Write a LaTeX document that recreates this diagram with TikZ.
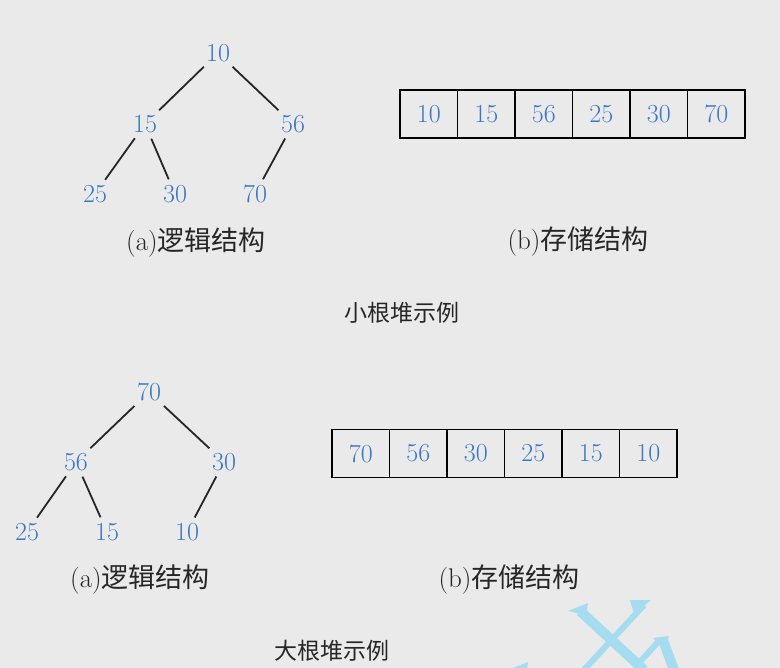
\documentclass[tikz,border=0pt]{standalone}
\usepackage{xcolor}
\usepackage{fontspec}
\newfontfamily\cjk{Noto Sans CJK SC}
\usepackage{tikz}
\usetikzlibrary{positioning}
\definecolor{numblue}{HTML}{3A78C3}
\definecolor{bggray}{HTML}{EAEAEA}
\definecolor{wmcyan}{HTML}{A6DCF0}

\begin{document}
\begin{tikzpicture}[x=1pt, y=-1pt,
            num/.style={text=numblue, font=\fontsize{26}{28}\selectfont, inner sep=2pt},
            cell/.style={draw, line width=1.4pt, rectangle, outer sep=0pt, inner sep=0pt, minimum width=57.5pt, minimum height=48pt, text=numblue, font=\fontsize{26}{28}\selectfont},
            caption/.style={text=black!85, font=\fontsize{27}{30}\selectfont},
            title/.style={text=black!85, font=\cjk\fontsize{23}{26}\selectfont},
            link/.style={line width=1.8pt, black!85, shorten <=4pt, shorten >=4pt}]

            \fill[bggray] (0,0) rectangle (780,668);
            \useasboundingbox (0,0) rectangle (780,668);

            % small root heap
            \node[num] (s10) at (218,53) {10};
            \node[num] (s15) at (145,124) {15};
            \node[num] (s56) at (293,124) {56};
            \node[num] (s25) at (95,194) {25};
            \node[num] (s30) at (175,194) {30};
            \node[num] (s70) at (255,194) {70};
            \draw[link] (s10) -- (s15);
            \draw[link] (s10) -- (s56);
            \draw[link] (s15) -- (s25);
            \draw[link] (s15) -- (s30);
            \draw[link] (s56) -- (s70);
            \node[caption] (slogic) at (196,243) {(a)\cjk 逻辑结构};

            \node[cell] (sa1) at (428.75,114) {10};
            \node[cell, right=0pt of sa1] (sa2) {15};
            \node[cell, right=0pt of sa2] (sa3) {56};
            \node[cell, right=0pt of sa3] (sa4) {25};
            \node[cell, right=0pt of sa4] (sa5) {30};
            \node[cell, right=0pt of sa5] (sa6) {70};
            \node[caption] (sstore) at (578,242) {(b)\cjk 存储结构};

            \node[title] (stitle) at (402,313) {小根堆示例};

            % big root heap
            \node[num] (b70) at (149,392) {70};
            \node[num] (b56) at (76,462) {56};
            \node[num] (b30) at (224,462) {30};
            \node[num] (b25) at (27,532) {25};
            \node[num] (b15) at (107,532) {15};
            \node[num] (b10) at (187,532) {10};
            \draw[link] (b70) -- (b56);
            \draw[link] (b70) -- (b30);
            \draw[link] (b56) -- (b25);
            \draw[link] (b56) -- (b15);
            \draw[link] (b30) -- (b10);
            \node[caption] (blogic) at (140,580) {(a)\cjk 逻辑结构};

            \node[cell] (ba1) at (360.75,453.5) {70};
            \node[cell, right=0pt of ba1] (ba2) {56};
            \node[cell, right=0pt of ba2] (ba3) {30};
            \node[cell, right=0pt of ba3] (ba4) {25};
            \node[cell, right=0pt of ba4] (ba5) {15};
            \node[cell, right=0pt of ba5] (ba6) {10};
            \node[caption] (bstore) at (509,580) {(b)\cjk 存储结构};

            \node[title] (btitle) at (332,651) {大根堆示例};

            % watermark
            \fill[wmcyan] (568,611) -- (588,603) -- (586,615) -- cycle;
            \draw[wmcyan, line width=10pt] (580,611) -- (644,670);
            \fill[wmcyan] (630,600) -- (651,600) -- (634,614) -- cycle;
            \draw[wmcyan, line width=6pt] (644,605) -- (582,672);
            \draw[wmcyan, line width=6pt] (637,665) -- (659,641);
            \fill[wmcyan] (653,638) -- (669,636) -- (664,650) -- cycle;
            \draw[wmcyan, line width=10pt] (663,640) -- (674,670);
            \fill[wmcyan] (513,668) -- (528,662) -- (527,668) -- cycle;
        \end{tikzpicture}
\end{document}
